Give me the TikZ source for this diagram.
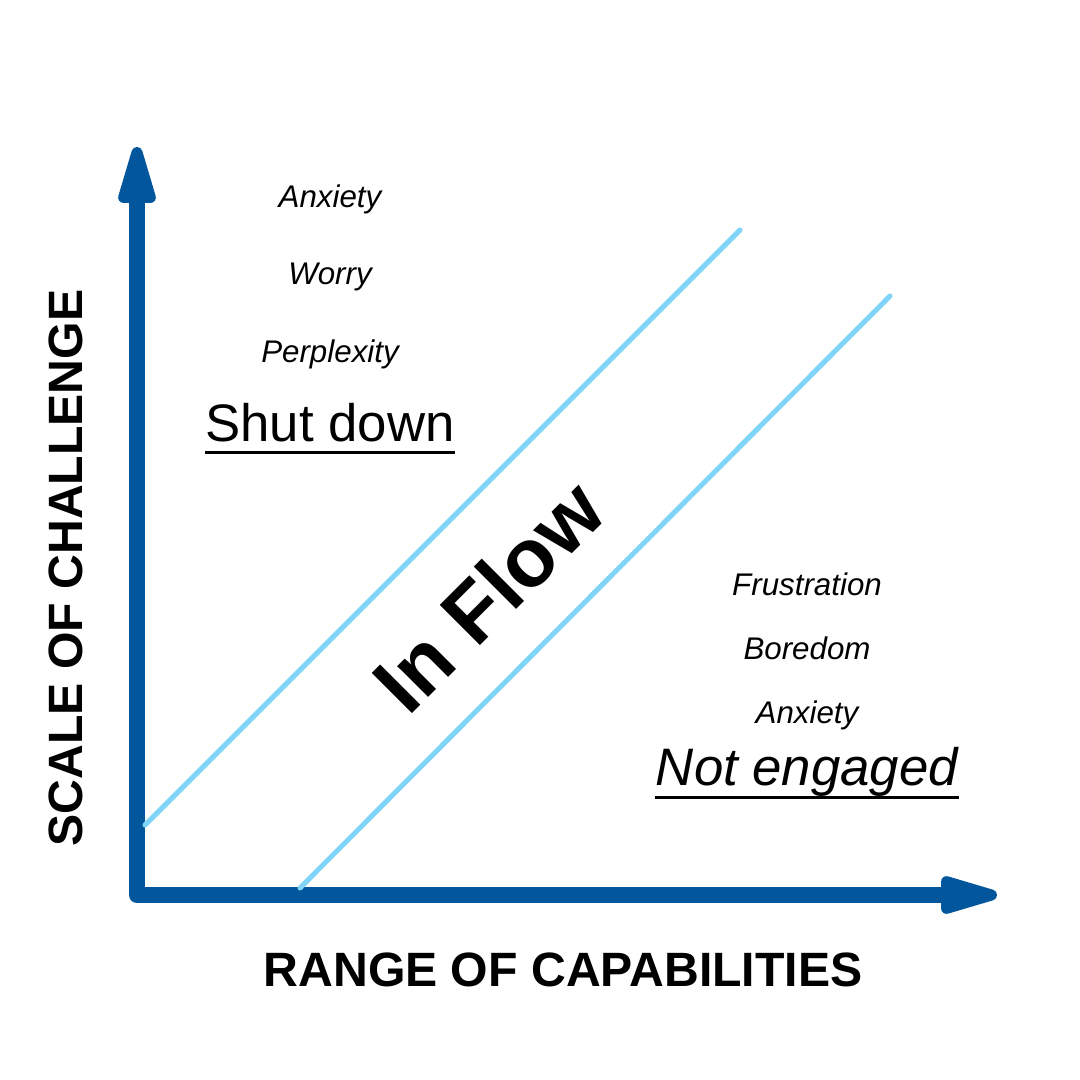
\documentclass[tikz,border=0pt]{standalone}
\usepackage{fontspec}
\setmainfont{Liberation Sans}
\usepackage{tikz}
\usetikzlibrary{positioning,arrows.meta}
\definecolor{fcBlue}{HTML}{02569C}
\definecolor{fcSky}{HTML}{80D4F8}
\definecolor{fcWhite}{HTML}{FFFFFF}
\tikzset{
  fc-axis/.style={<->,
    >={Triangle[length=0.72cm, width=0.38cm, line width=0.11cm, round]},
    line width=0.16cm, draw=fcBlue, line join=round
  },
  fc-band/.style={line width=0.05cm, draw=fcSky, line cap=round},
  fc-mood/.style={inner sep=0pt, anchor=base,
    font=\fontsize{8.9pt}{10pt}\itshape\selectfont},
  fc-state/.style={inner sep=0pt, anchor=base,
    font=\fontsize{15pt}{18pt}\selectfont},
  fc-under/.style={line width=0.03cm, draw=black},
  fc-title/.style={inner sep=0pt, anchor=base,
    font=\fontsize{13.7pt}{16pt}\bfseries\selectfont}
}

\begin{document}
\begin{tikzpicture}[x=0.01cm, y=-0.01cm]
\useasboundingbox[fill=fcWhite] (0,0) rectangle (1080,1080);

% --- Axes ---
\coordinate (ytop) at (137,147);
\coordinate (origin) at (137,895);
\coordinate (xend) at (997,895);
\draw[fc-axis] (ytop) -- (origin) -- (xend);

\node[fc-title] (xlabel) at (563,986) {RANGE OF CAPABILITIES};
\node[fc-title, rotate=90] (ylabel) at (82,568) {SCALE OF CHALLENGE};

% --- Flow channel ---
\coordinate (upA) at (145,825);
\coordinate (upB) at (740,230);
\coordinate (loA) at (300,888);
\coordinate (loB) at (890,296);
\draw[fc-band] (upA) -- (upB);
\draw[fc-band] (loA) -- (loB);

\node[inner sep=0pt, rotate=45, font=\fontsize{23.5pt}{28pt}\bfseries\selectfont]
  (flow) at (488,596) {In Flow};

% --- Too hard ---
\node[fc-mood] (anx1) at (330,208) {Anxiety};
\node[fc-mood] (worry) at (330,285) {Worry};
\node[fc-mood] (perplex) at (330,363) {Perplexity};
\node[fc-state] (shut) at (330,442) {Shut down};
\draw[fc-under] ([yshift=-0.1cm]shut.base west) -- ([yshift=-0.1cm]shut.base east);

% --- Too easy ---
\node[fc-mood] (frust) at (807,595) {Frustration};
\node[fc-mood] (bored) at (807,659) {Boredom};
\node[fc-mood] (anx2) at (807,723) {Anxiety};
\node[fc-state, font=\fontsize{15pt}{18pt}\itshape\selectfont]
  (noteng) at (807,785) {Not engaged};
\draw[fc-under] ([yshift=-0.12cm]noteng.base west) -- ([yshift=-0.12cm]noteng.base east);
\end{tikzpicture}
\end{document}
